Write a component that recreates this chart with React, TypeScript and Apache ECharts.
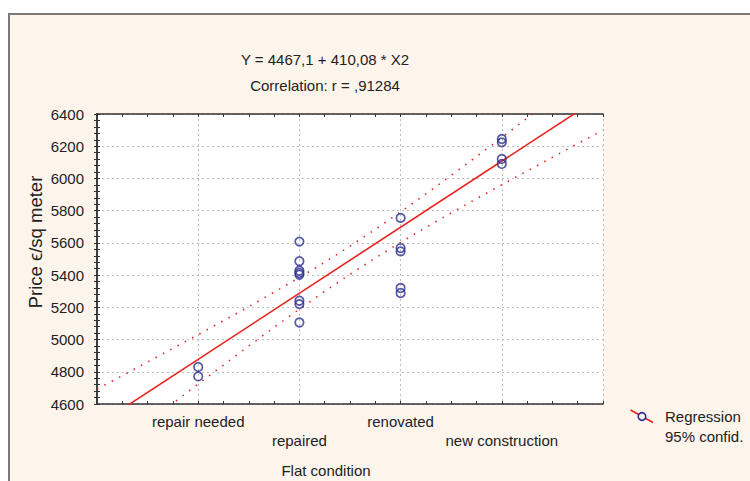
import React, { useEffect, useRef } from "react";
import * as echarts from "echarts";

// Category tick labels on the numeric X2 axis (0..5)
const categories = ["", "repair needed", "repaired", "renovated", "new construction", ""];

// Observed prices (€/sq meter) per flat condition code
const repairNeededPrices = [4830, 4771];
const repairedPrices = [5608, 5486, 5427, 5413, 5402, 5241, 5220, 5106];
const renovatedPrices = [5755, 5568, 5547, 5320, 5289];
const newConstructionPrices = [6245, 6224, 6121, 6090];

// Regression line Y = 4467,1 + 410,08 * X2 (end points)
const regressionX = [0, 5];
const regressionY = [4467.1, 6517.5];

// 95% confidence band
const bandX = [0, 0.25, 0.5, 0.75, 1, 1.25, 1.5, 1.75, 2, 2.25, 2.5, 2.75, 3, 3.25, 3.5, 3.75, 4, 4.25, 4.5, 4.75, 5];
const upperBand = [4693, 4776, 4861, 4945, 5031, 5117, 5204, 5294, 5385, 5480, 5580, 5684, 5792, 5904, 6019, 6136, 6254, 6374, 6494, 6614, 6736];
const lowerBand = [4242, 4363, 4484, 4604, 4724, 4842, 4960, 5076, 5189, 5299, 5405, 5506, 5603, 5696, 5786, 5874, 5961, 6046, 6131, 6216, 6300];

const yTicks = { min: 4600, max: 6400, interval: 200 };

const FONT = "Arial, 'Liberation Sans', sans-serif";
const RED = "#e8231f";
const BLUE = "#2e3192";
const TEXT = "#222222";

export default function App() {
  const ref = useRef<HTMLDivElement>(null);

  useEffect(() => {
    if (!ref.current) return;
    const chart = echarts.init(ref.current, null, { renderer: "svg" });

    const groups = [repairNeededPrices, repairedPrices, renovatedPrices, newConstructionPrices];
    const scatterData: number[][] = [];
    groups.forEach((g, gi) => g.forEach((v) => scatterData.push([gi + 1, v])));

    const dotted = [1.5, 6.8];

    const axisLineStyle = { lineStyle: { color: "#333333", width: 1.5 } };
    const xCommon = {
      type: "value" as const,
      min: 0,
      max: 5,
      interval: 1,
      axisLine: axisLineStyle,
      axisTick: { show: true, inside: true, length: 3, lineStyle: { color: "#333333" } },
      minorTick: { show: true, splitNumber: 4, length: 3, lineStyle: { color: "#333333" } },
    };
    const yCommon = {
      type: "value" as const,
      min: yTicks.min,
      max: yTicks.max,
      interval: yTicks.interval,
      axisLine: axisLineStyle,
      axisTick: { show: true, inside: true, length: 3, lineStyle: { color: "#333333" } },
      minorTick: { show: true, splitNumber: 5, length: 3, lineStyle: { color: "#333333" } },
    };

    chart.setOption({
      animation: false,
      backgroundColor: "transparent",
      textStyle: { fontFamily: FONT },
      grid: {
        left: 97,
        top: 114,
        right: 147,
        bottom: 77,
        show: true,
        backgroundColor: "#ffffff",
        borderWidth: 0,
      },
      xAxis: [
        {
          ...xCommon,
          position: "bottom",
          splitLine: { show: true, lineStyle: { color: "#bdbdbd", type: [2, 3], width: 1 } },
          axisLabel: {
            show: true,
            margin: 8,
            fontSize: 15,
            lineHeight: 19,
            color: TEXT,
            fontFamily: FONT,
            formatter: (v: number) => {
              const i = Math.round(v);
              if (Math.abs(v - i) > 1e-6) return "";
              const name = categories[i] || "";
              if (!name) return "";
              return i % 2 === 0 ? "\n" + name : name;
            },
          },
        },
        {
          ...xCommon,
          position: "top",
          splitLine: { show: false },
          axisLabel: { show: false },
        },
      ],
      yAxis: [
        {
          ...yCommon,
          position: "left",
          splitLine: { show: true, lineStyle: { color: "#bdbdbd", type: [2, 3], width: 1 } },
          axisLabel: {
            show: true,
            margin: 13,
            fontSize: 15,
            color: TEXT,
            fontFamily: FONT,
            formatter: (v: number) => String(v),
          },
        },
        {
          ...yCommon,
          position: "right",
          splitLine: { show: false },
          axisLabel: { show: false },
        },
      ],
      series: [
        {
          type: "line",
          data: bandX.map((x, i) => [x, upperBand[i]]),
          showSymbol: false,
          symbol: "none",
          clip: true,
          lineStyle: { color: RED, width: 1.6, type: dotted },
          z: 3,
        },
        {
          type: "line",
          data: bandX.map((x, i) => [x, lowerBand[i]]),
          showSymbol: false,
          symbol: "none",
          clip: true,
          lineStyle: { color: RED, width: 1.6, type: dotted },
          z: 3,
        },
        {
          type: "line",
          data: regressionX.map((x, i) => [x, regressionY[i]]),
          showSymbol: false,
          symbol: "none",
          clip: true,
          lineStyle: { color: RED, width: 1.6 },
          z: 4,
        },
        {
          type: "scatter",
          data: scatterData,
          symbol: "circle",
          symbolSize: 8.5,
          itemStyle: { color: "rgba(255,255,255,0)", borderColor: BLUE, borderWidth: 1.7 },
          z: 5,
        },
      ],
      graphic: [
        {
          type: "text",
          x: 325,
          y: 59,
          style: {
            text: "Y = 4467,1 + 410,08 * X2",
            font: `15px ${FONT}`,
            fill: TEXT,
            align: "center",
            verticalAlign: "middle",
          },
        },
        {
          type: "text",
          x: 325,
          y: 85,
          style: {
            text: "Correlation: r = ,91284",
            font: `15px ${FONT}`,
            fill: TEXT,
            align: "center",
            verticalAlign: "middle",
          },
        },
        {
          type: "text",
          x: 35,
          y: 242,
          rotation: Math.PI / 2,
          style: {
            text: "Price ϵ/sq meter",
            font: `18.5px ${FONT}`,
            fill: TEXT,
            align: "center",
            verticalAlign: "middle",
          },
        },
        {
          type: "text",
          x: 326,
          y: 470,
          style: {
            text: "Flat condition",
            font: `15px ${FONT}`,
            fill: TEXT,
            align: "center",
            verticalAlign: "middle",
          },
        },
        {
          type: "line",
          shape: { x1: 630.5, y1: 410, x2: 653, y2: 422.5 },
          style: { stroke: RED, lineWidth: 1.6 },
        },
        {
          type: "circle",
          shape: { cx: 642, cy: 416.5, r: 3.8 },
          style: { fill: "#fdf5ec", stroke: BLUE, lineWidth: 1.6 },
        },
        {
          type: "text",
          x: 665,
          y: 416,
          style: {
            text: "Regression",
            font: `15px ${FONT}`,
            fill: TEXT,
            align: "left",
            verticalAlign: "middle",
          },
        },
        {
          type: "text",
          x: 665,
          y: 436,
          style: {
            text: "95% confid.",
            font: `15px ${FONT}`,
            fill: TEXT,
            align: "left",
            verticalAlign: "middle",
          },
        },
      ],
    });

    return () => chart.dispose();
  }, []);

  return (
    <div
      style={{
        position: "absolute",
        left: 0,
        top: 0,
        width: 750,
        height: 481,
        background: "#ffffff",
        overflow: "hidden",
      }}
    >
      <div
        style={{
          position: "absolute",
          left: 8,
          top: 13,
          width: 800,
          height: 520,
          border: "2px solid #7a7a7a",
          background: "#fdf5ec",
        }}
      />
      <div ref={ref} style={{ position: "absolute", left: 0, top: 0, width: 750, height: 481 }} />
    </div>
  );
}
